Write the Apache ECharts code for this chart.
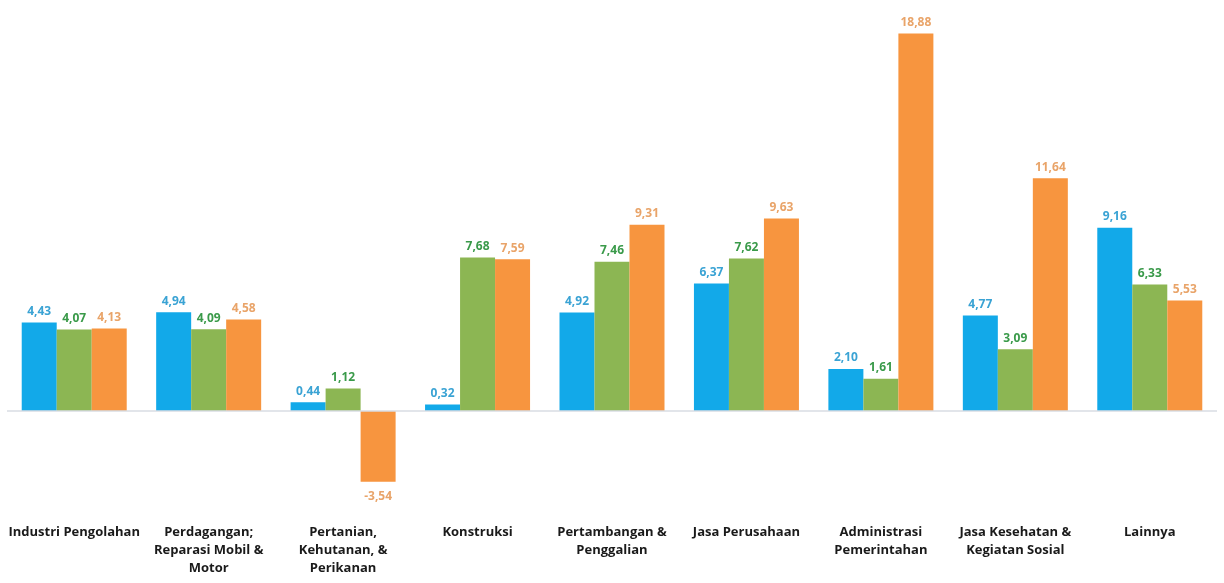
<!DOCTYPE html>
<html><head><meta charset="utf-8">
<script src="https://cdn.jsdelivr.net/npm/echarts@6/dist/echarts.min.js"></script>
<style>html,body{margin:0;padding:0;background:#fff}#c{width:1224px;height:583px}</style>
</head><body><div id="c"></div>
<script>
const categories = ["Industri Pengolahan","Perdagangan;\nReparasi Mobil &\nMotor","Pertanian,\nKehutanan, &\nPerikanan","Konstruksi","Pertambangan &\nPenggalian","Jasa Perusahaan","Administrasi\nPemerintahan","Jasa Kesehatan &\nKegiatan Sosial","Lainnya"];
const seriesBlue = [4.43,4.94,0.44,0.32,4.92,6.37,2.10,4.77,9.16];
const seriesGreen = [4.07,4.09,1.12,7.68,7.46,7.62,1.61,3.09,6.33];
const seriesOrange = [4.13,4.58,-3.54,7.59,9.31,9.63,18.88,11.64,5.53];

const fmt = p => p.value.toFixed(2).replace('.', ',');
function mk(name, vals, color, labelColor, extra) {
  return Object.assign({
    name, type: 'bar', barWidth: 35, barGap: '0%',
    itemStyle: { color },
    label: { show: true, position: 'top', distance: 5, color: labelColor, fontFamily: 'Open Sans', fontWeight: 'bold', fontSize: 12, formatter: fmt },
    data: vals.map(v => v < 0 ? { value: v, label: { position: 'bottom', distance: 9 } } : v)
  }, extra || {});
}
const chart = echarts.init(document.getElementById('c'));
chart.setOption({
  animation: false,
  grid: { left: 7, right: 7, top: 11, bottom: 72 },
  xAxis: {
    type: 'category', data: categories,
    axisLine: { show: false, onZero: false }, axisTick: { show: false },
    axisLabel: { margin: 12, color: '#1a1a1a', fontFamily: 'Open Sans', fontWeight: 'bold', fontSize: 13, lineHeight: 18, interval: 0, verticalAlign: 'top' }
  },
  yAxis: { type: 'value', min: -5, max: 20, show: false, splitLine: { show: false } },
  series: [
    mk('A', seriesBlue, '#12a9e9', '#3aa3d4', {
      markLine: { silent: true, symbol: 'none', label: { show: false }, lineStyle: { color: '#d8dde3', type: 'solid', width: 1.5 }, data: [{ yAxis: 0 }] }
    }),
    mk('B', seriesGreen, '#8cb653', '#3a9a4a'),
    mk('C', seriesOrange, '#f7953f', '#e9a469')
  ]
});
</script></body></html>
